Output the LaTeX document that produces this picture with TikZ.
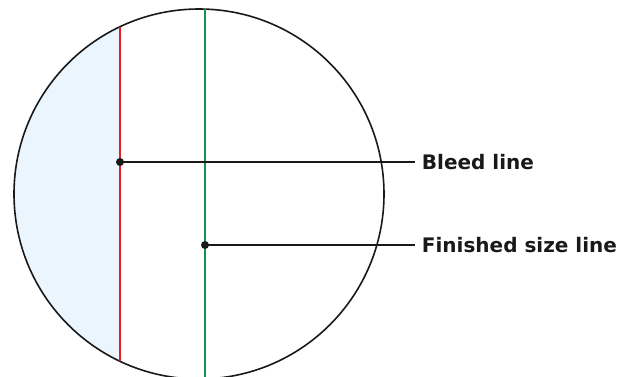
\documentclass[tikz,border=0pt]{standalone}
\usepackage{fontspec}
\setmainfont{DejaVu Sans}
\usepackage{tikz}
\usetikzlibrary{positioning}
\definecolor{bleedred}{RGB}{227,30,36}
\definecolor{trimgreen}{RGB}{18,150,72}
\definecolor{bleedfill}{RGB}{234,245,254}

\begin{document}
\begin{tikzpicture}[
    x=0.75pt, y=-0.75pt,
    disc/.style={circle, draw=black!90, line width=1.2pt, inner sep=0pt, minimum size=277.5pt},
    dot/.style={circle, fill=black!90, inner sep=0pt, minimum size=6pt},
    callout/.style={anchor=west, inner sep=5pt, font=\fontsize{15}{18}\selectfont\bfseries, text=black!90},
    leader/.style={line width=1pt, draw=black!90},
    cutline/.style={line width=1.9pt}
]
\useasboundingbox (0,0) rectangle (626,376);
\clip (0,0) rectangle (626,376);

% Bleed area (left of the red line)
\begin{scope}
  \clip (199,194) circle[radius=138.75pt];
  \fill[bleedfill] (0,0) rectangle (120,376);
\end{scope}

% Outline
\node[disc] (disc) at (199,194) {};

% Cut lines
\draw[cutline, draw=bleedred] (120,27) -- (120,361);
\draw[cutline, draw=trimgreen] (205,9) -- (205,379);

% Callouts
\node[dot] (bleeddot) at (120,162) {};
\node[dot] (trimdot) at (205,245) {};
\node[callout] (bleedlbl) at (415,162) {Bleed line};
\node[callout] (trimlbl) at (415,245) {Finished size line};

\draw[leader] (bleeddot.center) -- (bleedlbl.west);
\draw[leader] (trimdot.center) -- (trimlbl.west);

\end{tikzpicture}
\end{document}
